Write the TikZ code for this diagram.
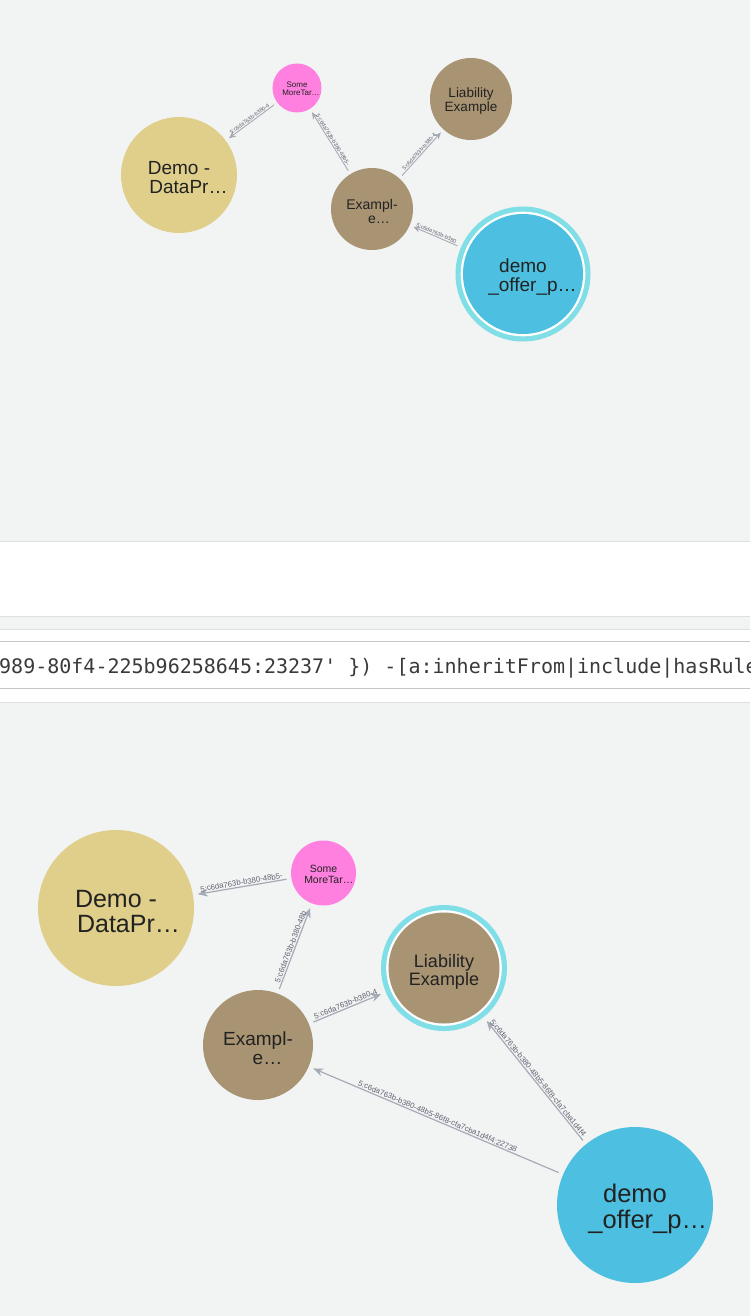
\documentclass[tikz,border=0pt]{standalone}
\usepackage{fontspec}
\setmainfont{Liberation Sans}
\newfontfamily\codefont{DejaVu Sans Mono}[Ligatures=TeXOff]
\usetikzlibrary{arrows.meta}
\definecolor{bgC}{HTML}{F2F3F3}
\definecolor{demoY}{HTML}{DFCF8B}
\definecolor{pinkC}{HTML}{FF80DF}
\definecolor{brownC}{HTML}{A89373}
\definecolor{blueC}{HTML}{4DBFE0}
\definecolor{ringC}{HTML}{80DEE7}
\definecolor{edgeC}{HTML}{A5ABB6}
\definecolor{labC}{HTML}{5F6370}
\definecolor{capC}{HTML}{222222}
\definecolor{lineA}{HTML}{DDDFE0}
\definecolor{lineB}{HTML}{C4C6C8}
\definecolor{codeC}{HTML}{3A3A3A}
\newcommand\fsz[1]{\fontsize{#1pt}{#1pt}\selectfont}
\begin{document}
\begin{tikzpicture}[x=1pt,y=-1pt,
  gnode/.style={circle, inner sep=0pt, outer sep=0pt},
  captext/.style={align=center, text=capC, inner sep=0pt},
  ringnode/.style n args={3}{circle, inner sep=0pt, outer sep=0pt, fill=ringC,
     path picture={\fill[white] (path picture bounding box.center) circle (#2);
                   \fill[#3] (path picture bounding box.center) circle (#1);}},
  tedge/.style={draw=edgeC, line width=0.9pt, -{Stealth[length=7pt,width=6pt]}, shorten <=4pt, shorten >=4pt},
  bedge/.style={draw=edgeC, line width=1.2pt, -{Stealth[length=10pt,width=8pt]}, shorten <=5pt, shorten >=5pt},
  tlab/.style={sloped, above, font=\fsz{5.5}, text=labC, inner sep=0.8pt},
  blab/.style={sloped, above, font=\fsz{7.8}, text=labC, inner sep=1pt}]
\useasboundingbox (0,0) rectangle (750,1316);
\clip (0,0) rectangle (750,1316);
\fill[bgC] (0,0) rectangle (750,1316);
% middle bands
\fill[white] (0,541) rectangle (750,616);
\fill[white] (0,629) rectangle (750,702);
\draw[lineA, line width=1pt] (0,541) -- (750,541);
\draw[lineA, line width=1pt] (0,616) -- (750,616);
\draw[lineA, line width=1pt] (0,629) -- (750,629);
\draw[lineB, line width=1pt] (0,641) -- (750,641);
\draw[lineB, line width=1pt] (0,688) -- (750,688);
\draw[lineA, line width=1pt] (0,702) -- (750,702);
\node[anchor=base west, inner sep=0pt, font=\codefont\fsz{20}, text=codeC] (code) at (-1,673)
  {989-80f4-225b96258645:23237' \}) -[a:inheritFrom|include|hasRule|};

% ---------- top graph ----------
\node[gnode, fill=demoY, minimum size=116pt,
  label={[captext, font=\fsz{19}, yshift=-3pt]center:Demo -\\DataPr\rlap{…}}] (tDemo) at (179,175) {};
\node[gnode, fill=pinkC, minimum size=49pt,
  label={[captext, font=\fsz{8}, yshift=-1pt]center:Some\\MoreTar\rlap{…}}] (tSome) at (297,88) {};
\node[gnode, fill=brownC, minimum size=82pt,
  label={[captext, font=\fsz{13.5}, yshift=-2pt]center:Liability\\Example}] (tLiab) at (471,99) {};
\node[gnode, fill=brownC, minimum size=82pt,
  label={[captext, font=\fsz{14}, yshift=-2pt]center:Exampl-\\e\rlap{…}}] (tEx) at (372,209) {};
\node[ringnode={60pt}{62.3pt}{blueC}, minimum size=135pt,
  label={[captext, font=\fsz{19}, yshift=-3pt]center:demo\\\_offer\_p\rlap{…}}] (tOffer) at (523,274) {};

\draw[tedge] (tSome) -- node[tlab]{5:c6da763b-b380-4} (tDemo);
\draw[tedge] (tEx) -- node[tlab]{5:c6da763b-b380-48b5-} (tSome);
\draw[tedge] (tEx) -- node[tlab]{5:c6da763b-b380-4} (tLiab);
\draw[tedge] (tOffer) -- node[tlab]{5:c6da763b-b380} (tEx);

% ---------- bottom graph ----------
\node[gnode, fill=demoY, minimum size=156pt,
  label={[captext, font=\fsz{25}, yshift=-4pt]center:Demo -\\DataPr\rlap{…}}] (bDemo) at (116,908) {};
\node[gnode, fill=pinkC, minimum size=65pt,
  label={[captext, font=\fsz{10.5}, yshift=-1.5pt]center:Some\\MoreTar\rlap{…}}] (bSome) at (323.5,873) {};
\node[ringnode={55.5pt}{57.8pt}{brownC}, minimum size=126pt,
  label={[captext, font=\fsz{18}, yshift=-4pt]center:Liability\\Example}] (bLiab) at (444,968) {};
\node[gnode, fill=brownC, minimum size=110pt,
  label={[captext, font=\fsz{19}, yshift=-3pt]center:Exampl-\\e\rlap{…}}] (bEx) at (258,1045) {};
\node[gnode, fill=blueC, minimum size=156pt,
  label={[captext, font=\fsz{25.5}, yshift=-4pt]center:demo\\\_offer\_p\rlap{…}}] (bOffer) at (635,1205) {};

\draw[bedge] (bSome) -- node[blab]{5:c6da763b-b380-48b5-} (bDemo);
\draw[bedge] (bEx) -- node[blab]{5:c6da763b-b380-48b} (bSome);
\draw[bedge] (bEx) -- node[blab]{5:c6da763b-b380-4} (bLiab);
\draw[bedge] (bOffer) -- node[blab]{5:c6da763b-b380-48b5-86f8-cfa7cba1d4f4} (bLiab);
\draw[bedge] (bOffer) -- node[blab]{5:c6da763b-b380-48b5-86f8-cfa7cba1d4f4:22738} (bEx);
\end{tikzpicture}
\end{document}
